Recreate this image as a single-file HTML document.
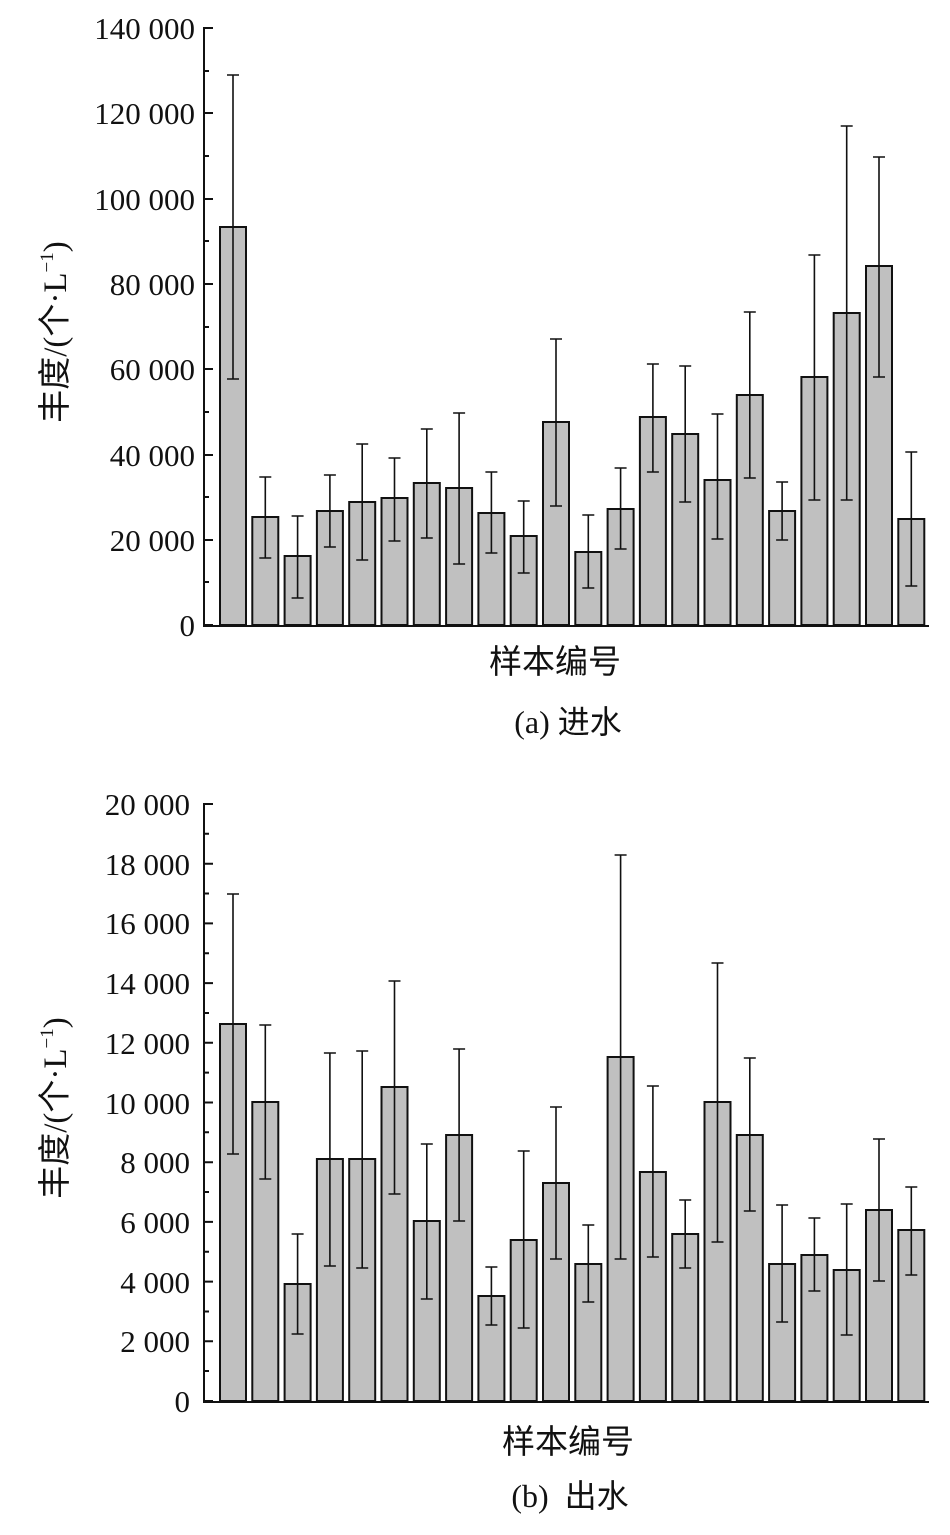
<!DOCTYPE html>
<html><head><meta charset="utf-8"><style>body{margin:0;background:#fff}svg{display:block}</style></head><body>
<svg width="950" height="1535" xmlns="http://www.w3.org/2000/svg" font-family="Liberation Serif, Noto Serif CJK SC, serif">
<g fill="#c0c0c0" stroke="#111" stroke-width="2">
<rect x="220" y="227" width="26" height="398"/><rect x="252.3" y="517" width="26" height="108"/><rect x="284.6" y="556" width="26" height="69"/><rect x="316.9" y="511" width="26" height="114"/><rect x="349.2" y="502" width="26" height="123"/><rect x="381.5" y="498" width="26" height="127"/><rect x="413.8" y="483" width="26" height="142"/><rect x="446.1" y="488" width="26" height="137"/><rect x="478.4" y="513" width="26" height="112"/><rect x="510.7" y="536" width="26" height="89"/><rect x="543" y="422" width="26" height="203"/><rect x="575.3" y="552" width="26" height="73"/><rect x="607.6" y="509" width="26" height="116"/><rect x="639.9" y="417" width="26" height="208"/><rect x="672.2" y="434" width="26" height="191"/><rect x="704.5" y="480" width="26" height="145"/><rect x="736.8" y="395" width="26" height="230"/><rect x="769.1" y="511" width="26" height="114"/><rect x="801.4" y="377" width="26" height="248"/><rect x="833.7" y="313" width="26" height="312"/><rect x="866" y="266" width="26" height="359"/><rect x="898.3" y="519" width="26" height="106"/>
</g>
<g stroke="#111" stroke-width="1.6" fill="none">
<path d="M233 75V379M227 75h12M227 379h12"/>
<path d="M265.3 477V558M259.3 477h12M259.3 558h12"/>
<path d="M297.6 516V598M291.6 516h12M291.6 598h12"/>
<path d="M329.9 475V547M323.9 475h12M323.9 547h12"/>
<path d="M362.2 444V560M356.2 444h12M356.2 560h12"/>
<path d="M394.5 458V541M388.5 458h12M388.5 541h12"/>
<path d="M426.8 429V538M420.8 429h12M420.8 538h12"/>
<path d="M459.1 413V564M453.1 413h12M453.1 564h12"/>
<path d="M491.4 472V553M485.4 472h12M485.4 553h12"/>
<path d="M523.7 501V573M517.7 501h12M517.7 573h12"/>
<path d="M556 339V506M550 339h12M550 506h12"/>
<path d="M588.3 515V588M582.3 515h12M582.3 588h12"/>
<path d="M620.6 468V549M614.6 468h12M614.6 549h12"/>
<path d="M652.9 364V472M646.9 364h12M646.9 472h12"/>
<path d="M685.2 366V502M679.2 366h12M679.2 502h12"/>
<path d="M717.5 414V539M711.5 414h12M711.5 539h12"/>
<path d="M749.8 312V478M743.8 312h12M743.8 478h12"/>
<path d="M782.1 482V540M776.1 482h12M776.1 540h12"/>
<path d="M814.4 255V500M808.4 255h12M808.4 500h12"/>
<path d="M846.7 126V500M840.7 126h12M840.7 500h12"/>
<path d="M879 157V377M873 157h12M873 377h12"/>
<path d="M911.3 452V586M905.3 452h12M905.3 586h12"/>
</g>
<g stroke="#111" stroke-width="2" fill="none">
<path d="M204 27V626H929"/>
<path d="M204 625h9M204 540h9M204 455h9M204 369h9M204 284h9M204 199h9M204 113h9M204 28h9"/>
<path d="M204 582h5M204 497h5M204 412h5M204 327h5M204 241h5M204 156h5M204 71h5"/>
</g>
<g font-size="31" text-anchor="end" fill="#111">
<text x="195" y="636">0</text><text x="195" y="551">20 000</text><text x="195" y="466">40 000</text><text x="195" y="380">60 000</text><text x="195" y="295">80 000</text><text x="195" y="210">100 000</text><text x="195" y="124">120 000</text><text x="195" y="39">140 000</text>
</g>
<text transform="translate(66,332) rotate(-90)" font-size="33" text-anchor="middle" fill="#111" font-family="Liberation Serif, Noto Sans CJK SC, sans-serif">丰度/(个·L<tspan font-size="19" dy="-13">−1</tspan><tspan dy="13">)</tspan></text>
<text x="555" y="673" font-size="33" text-anchor="middle" fill="#111" font-family="Liberation Serif, Noto Sans CJK SC, sans-serif">样本编号</text>
<text x="568" y="733" font-size="32" text-anchor="middle" fill="#111" font-family="Liberation Serif, Noto Sans CJK SC, serif">(a) 进水</text>

<g fill="#c0c0c0" stroke="#111" stroke-width="2">
<rect x="220" y="1024" width="26" height="377"/><rect x="252.3" y="1102" width="26" height="299"/><rect x="284.6" y="1284" width="26" height="117"/><rect x="316.9" y="1159" width="26" height="242"/><rect x="349.2" y="1159" width="26" height="242"/><rect x="381.5" y="1087" width="26" height="314"/><rect x="413.8" y="1221" width="26" height="180"/><rect x="446.1" y="1135" width="26" height="266"/><rect x="478.4" y="1296" width="26" height="105"/><rect x="510.7" y="1240" width="26" height="161"/><rect x="543" y="1183" width="26" height="218"/><rect x="575.3" y="1264" width="26" height="137"/><rect x="607.6" y="1057" width="26" height="344"/><rect x="639.9" y="1172" width="26" height="229"/><rect x="672.2" y="1234" width="26" height="167"/><rect x="704.5" y="1102" width="26" height="299"/><rect x="736.8" y="1135" width="26" height="266"/><rect x="769.1" y="1264" width="26" height="137"/><rect x="801.4" y="1255" width="26" height="146"/><rect x="833.7" y="1270" width="26" height="131"/><rect x="866" y="1210" width="26" height="191"/><rect x="898.3" y="1230" width="26" height="171"/>
</g>
<g stroke="#111" stroke-width="1.6" fill="none">
<path d="M233 894V1154M227 894h12M227 1154h12"/>
<path d="M265.3 1025V1179M259.3 1025h12M259.3 1179h12"/>
<path d="M297.6 1234V1334M291.6 1234h12M291.6 1334h12"/>
<path d="M329.9 1053V1266M323.9 1053h12M323.9 1266h12"/>
<path d="M362.2 1051V1268M356.2 1051h12M356.2 1268h12"/>
<path d="M394.5 981V1194M388.5 981h12M388.5 1194h12"/>
<path d="M426.8 1144V1299M420.8 1144h12M420.8 1299h12"/>
<path d="M459.1 1049V1221M453.1 1049h12M453.1 1221h12"/>
<path d="M491.4 1267V1325M485.4 1267h12M485.4 1325h12"/>
<path d="M523.7 1151V1328M517.7 1151h12M517.7 1328h12"/>
<path d="M556 1107V1259M550 1107h12M550 1259h12"/>
<path d="M588.3 1225V1302M582.3 1225h12M582.3 1302h12"/>
<path d="M620.6 855V1259M614.6 855h12M614.6 1259h12"/>
<path d="M652.9 1086V1257M646.9 1086h12M646.9 1257h12"/>
<path d="M685.2 1200V1268M679.2 1200h12M679.2 1268h12"/>
<path d="M717.5 963V1242M711.5 963h12M711.5 1242h12"/>
<path d="M749.8 1058V1211M743.8 1058h12M743.8 1211h12"/>
<path d="M782.1 1205V1322M776.1 1205h12M776.1 1322h12"/>
<path d="M814.4 1218V1291M808.4 1218h12M808.4 1291h12"/>
<path d="M846.7 1204V1335M840.7 1204h12M840.7 1335h12"/>
<path d="M879 1139V1281M873 1139h12M873 1281h12"/>
<path d="M911.3 1187V1275M905.3 1187h12M905.3 1275h12"/>
</g>
<g stroke="#111" stroke-width="2" fill="none">
<path d="M204 803V1402H929"/>
<path d="M204 1401h9M204 1341.3h9M204 1281.6h9M204 1221.9h9M204 1162.2h9M204 1102.5h9M204 1042.8h9M204 983.1h9M204 923.4h9M204 863.7h9M204 804h9"/>
<path d="M204 1371h5M204 1311.5h5M204 1251.8h5M204 1192h5M204 1132.3h5M204 1072.6h5M204 1013h5M204 953.2h5M204 893.5h5M204 833.8h5"/>
</g>
<g font-size="31" text-anchor="end" fill="#111">
<text x="190" y="1412">0</text><text x="190" y="1352">2 000</text><text x="190" y="1293">4 000</text><text x="190" y="1233">6 000</text><text x="190" y="1173">8 000</text><text x="190" y="1114">10 000</text><text x="190" y="1054">12 000</text><text x="190" y="994">14 000</text><text x="190" y="934">16 000</text><text x="190" y="875">18 000</text><text x="190" y="815">20 000</text>
</g>
<text transform="translate(66,1108) rotate(-90)" font-size="33" text-anchor="middle" fill="#111" font-family="Liberation Serif, Noto Sans CJK SC, sans-serif">丰度/(个·L<tspan font-size="19" dy="-13">−1</tspan><tspan dy="13">)</tspan></text>
<text x="568" y="1453" font-size="33" text-anchor="middle" fill="#111" font-family="Liberation Serif, Noto Sans CJK SC, sans-serif">样本编号</text>
<text x="570" y="1507" font-size="32" text-anchor="middle" fill="#111" font-family="Liberation Serif, Noto Sans CJK SC, serif" xml:space="preserve">(b)  出水</text>
</svg>
</body></html>
